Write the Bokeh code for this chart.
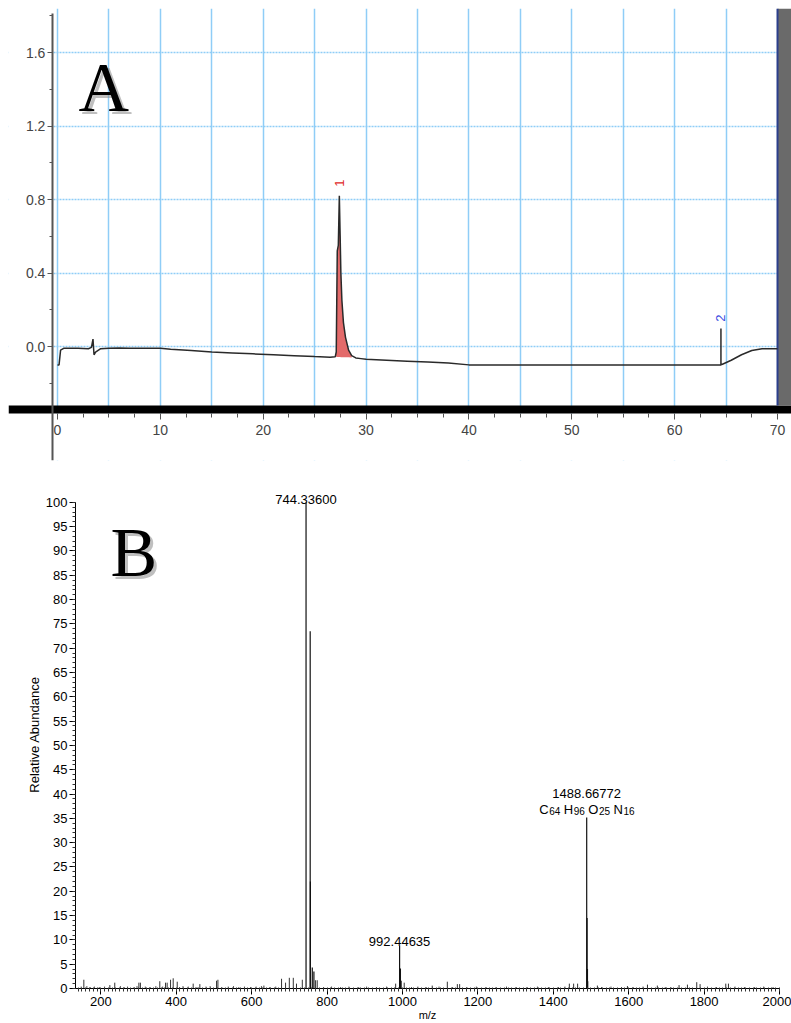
import numpy as np
from bokeh.plotting import figure
from bokeh.layouts import column
from bokeh.models import (LinearAxis, Grid, FixedTicker, PrintfTickFormatter,
                          Range1d, SingleIntervalTicker)
from bokeh.core.properties import value
from bokeh.embed import file_html
from bokeh.resources import INLINE

# ---------------- Panel A: HPLC chromatogram ----------------
time_min = [0.0, 0.15, 0.3, 0.6, 1.0, 2.0, 3.0, 3.3, 3.45, 3.55, 3.7, 4.2, 5.0,
            6.0, 7.0, 8.0, 10.0, 11.0, 13.0, 15.0, 17.0, 19.0, 21.0, 23.0, 25.0,
            26.5, 27.0, 27.1, 27.15, 27.2, 27.3, 27.4, 27.48, 27.55, 27.65, 27.8,
            28.0, 28.3, 28.6, 29.0, 29.5, 30.0, 32.0, 34.0, 36.0, 38.0, 40.0,
            45.0, 50.0, 55.0, 60.0, 64.5, 64.5, 64.5, 64.7, 65.5, 66.5, 67.5,
            68.5, 70.0]
signal = [-0.10, -0.10, -0.02, -0.01, -0.01, -0.01, -0.012, -0.005, 0.04, -0.045,
          -0.03, -0.012, -0.01, -0.008, -0.01, -0.01, -0.01, -0.015, -0.022, -0.03,
          -0.035, -0.04, -0.045, -0.05, -0.055, -0.058, -0.056, -0.03, 0.25, 0.52,
          0.55, 0.82, 0.60, 0.40, 0.25, 0.13, 0.05, -0.02, -0.05, -0.062, -0.066,
          -0.07, -0.075, -0.08, -0.085, -0.09, -0.10, -0.10, -0.10, -0.10, -0.10,
          -0.10, 0.098, -0.10, -0.095, -0.075, -0.045, -0.022, -0.012, -0.012]

# integrated area of peak 1
peak_time = [27.0, 27.1, 27.15, 27.2, 27.3, 27.4, 27.48, 27.55, 27.65, 27.8, 28.0, 28.3, 28.6]
peak_signal = [-0.056, -0.03, 0.25, 0.52, 0.55, 0.82, 0.60, 0.40, 0.25, 0.13, 0.05, -0.02, -0.05]
peak_base = [-0.056, -0.056, -0.056, -0.057, -0.057, -0.057, -0.057, -0.058, -0.058, -0.058, -0.059, -0.059, -0.06]

peak_ids = ["1", "2"]
peak_id_time = [27.42, 64.5]
peak_id_level = [0.87, 0.135]
peak_id_colors = ["#e02a2a", "#3a4de0"]

time_ticks = [0, 10, 20, 30, 40, 50, 60, 70]
time_grid = [0, 5, 10, 15, 20, 25, 30, 35, 40, 45, 50, 55, 60, 65]
signal_ticks = [0.0, 0.4, 0.8, 1.2, 1.6]
signal_minor = [-0.2, 0.2, 0.6, 1.0, 1.4, 1.8]
run_end = 70.0

XA0, XA1 = -4.764, 71.36
YA0, YA1 = -0.6204, 1.8395
band_top, band_bot = -0.321, -0.365
y_axis_at = -0.5
grid_blue = "#8fcdf7"

pa = figure(frame_width=783, frame_height=452,
            x_range=Range1d(XA0, XA1), y_range=Range1d(YA0, YA1),
            x_axis_location=None, y_axis_location=None,
            toolbar_location=None, output_backend="svg",
            min_border_left=8, min_border_right=0, min_border_top=8,
            min_border_bottom=2, outline_line_color=None, frame_align=False)
pa.center = []
pa.add_layout(Grid(dimension=0, ticker=FixedTicker(ticks=time_grid),
                   grid_line_color=grid_blue, grid_line_width=1.5), "center")
pa.add_layout(Grid(dimension=1, ticker=FixedTicker(ticks=signal_ticks),
                   grid_line_color=grid_blue, grid_line_width=1.5,
                   grid_line_dash="2 1"), "center")

# masks, baseline band and end-of-run bar
pa.quad(left=XA0, right=y_axis_at, bottom=band_top, top=YA1, fill_color="white", line_color=None)
pa.quad(left=XA0, right=XA1, bottom=YA0, top=band_bot, fill_color="white", line_color=None)
pa.quad(left=XA0, right=XA1, bottom=band_bot, top=band_top, fill_color="black", line_color=None)
pa.quad(left=run_end, right=XA1, bottom=band_top, top=YA1, fill_color="#6a6a6a", line_color=None)
pa.segment(x0=run_end, y0=band_top, x1=run_end, y1=YA1, line_color="#2b3f8c", line_width=2)

pa.varea(x=peak_time, y1=peak_base, y2=peak_signal, fill_color="#e36a6a")
pa.line(time_min, signal, line_color="#2a2a2a", line_width=1.5)

pa.text(x=peak_id_time, y=peak_id_level, text=peak_ids, angle=np.pi / 2,
        text_color=peak_id_colors, text_font=value("Liberation Sans"),
        text_font_size="13px", text_align="left", text_baseline="middle")

for dx, col, a in [(3, "#8a8a8a", 0.55), (0, "black", 1.0)]:
    pa.text(x=[2.04], y=[1.41], text=["A"], x_offset=dx, y_offset=dx,
            text_font=value("Liberation Serif"), text_font_size="70px",
            text_color=col, text_alpha=a, text_baseline="alphabetic")

ax_y = LinearAxis(fixed_location=y_axis_at, bounds=(YA0, 1.815),
                  ticker=FixedTicker(ticks=signal_ticks, minor_ticks=signal_minor),
                  formatter=PrintfTickFormatter(format="%.1f"))
ax_y.axis_line_color = "#555555"
ax_y.axis_line_width = 2
ax_y.major_tick_line_color = "#555555"
ax_y.minor_tick_line_color = "#555555"
ax_y.major_tick_in, ax_y.major_tick_out = 0, 5
ax_y.minor_tick_in, ax_y.minor_tick_out = 0, 3
ax_y.major_label_standoff = 2
ax_y.major_label_text_font = "Liberation Sans"
ax_y.major_label_text_font_size = "14px"
ax_y.major_label_text_color = "#444444"
pa.add_layout(ax_y, "left")

time_minor = [t * 2.5 for t in range(29) if (t * 2.5) % 10 != 0]
ax_x = LinearAxis(fixed_location=band_bot,
                  ticker=FixedTicker(ticks=time_ticks, minor_ticks=time_minor))
ax_x.axis_line_color = None
ax_x.major_tick_line_color = "#555555"
ax_x.minor_tick_line_color = "#555555"
ax_x.major_tick_in, ax_x.major_tick_out = 0, 6
ax_x.minor_tick_in, ax_x.minor_tick_out = 0, 4
ax_x.major_label_standoff = 5
ax_x.major_label_text_font = "Liberation Sans"
ax_x.major_label_text_font_size = "14px"
ax_x.major_label_text_color = "#444444"
pa.add_layout(ax_x, "below")

# ---------------- Panel B: mass spectrum ----------------
ion_mz = [744.336, 755.33, 755.83, 760.9, 765.2, 992.44635, 994.6, 1488.66772, 1489.67, 1490.67]
ion_ab = [100.0, 73.5, 22.0, 4.3, 3.5, 8.8, 4.1, 35.2, 14.5, 4.0]

minor_mz = [155, 224, 237, 301, 305, 356.5, 371.7, 376, 385, 392, 402.7, 445, 462.7,
            507, 510.6, 632.5, 679.4, 690, 700, 710.5, 719, 734.4, 769.6, 774, 982,
            997, 1004.7, 1079, 1119, 1145.6, 1151.7, 1442.6, 1454, 1464.6, 1491.7,
            1517, 1596.7, 1649.8, 1676, 1733.6, 1755.8, 1780.5, 1789.4, 1857.5, 1864.6]
minor_ab = [1.8, 0.7, 1.2, 1.2, 1.2, 1.5, 1.2, 1.2, 1.8, 2.1, 1.4, 1.0, 0.9,
            1.6, 1.8, 0.6, 2.0, 1.2, 2.2, 2.2, 1.0, 1.8, 1.7, 1.7, 1.0,
            1.6, 1.2, 0.6, 1.4, 0.9, 0.9, 1.0, 1.0, 1.0, 1.5,
            0.6, 0.5, 0.8, 0.6, 0.7, 0.8, 1.3, 0.9, 1.0, 1.0]

noise_mz = [148, 163, 172, 183, 196, 210, 252, 262, 271, 288, 296, 318, 331, 346,
            364, 409, 418, 432, 455, 479, 490, 521, 538, 552, 566, 581, 597, 612,
            626, 648, 664, 791, 812, 836, 858, 884, 905, 931, 958, 1024, 1041,
            1063, 1097, 1133, 1171, 1196, 1222, 1248, 1276, 1302, 1331, 1358,
            1387, 1414, 1431, 1528, 1553, 1581, 1612, 1638, 1697, 1712, 1809,
            1833, 1882, 1907, 1934, 1958, 1983]
noise_ab = [0.4, 0.5, 0.3, 0.4, 0.3, 0.4, 0.5, 0.3, 0.4, 0.3, 0.5, 0.4, 0.3, 0.5,
            0.4, 0.3, 0.5, 0.4, 0.3, 0.4, 0.5, 0.3, 0.4, 0.5, 0.3, 0.4, 0.3, 0.4,
            0.5, 0.3, 0.4, 0.3, 0.4, 0.3, 0.4, 0.3, 0.4, 0.3, 0.4, 0.3, 0.4,
            0.3, 0.4, 0.3, 0.3, 0.4, 0.3, 0.3, 0.4, 0.3, 0.3, 0.4,
            0.3, 0.3, 0.4, 0.3, 0.4, 0.3, 0.3, 0.4, 0.3, 0.3, 0.4,
            0.3, 0.4, 0.3, 0.3, 0.4, 0.3]

formula_elements = ["C", "H", "O", "N"]
formula_counts = [64, 96, 25, 16]

pb = figure(frame_width=704, frame_height=508,
            x_range=Range1d(132.9, 2000), y_range=Range1d(0, 104.5),
            toolbar_location=None, output_backend="svg",
            min_border_left=75, min_border_right=12, min_border_top=18,
            min_border_bottom=35, outline_line_color=None, frame_align=False,
            x_axis_label="m/z", y_axis_label="Relative Abundance")
pb.center = []

pb.segment(x0=noise_mz, y0=0, x1=noise_mz, y1=noise_ab, line_color="#555555", line_width=1)
pb.segment(x0=minor_mz, y0=0, x1=minor_mz, y1=minor_ab, line_color="#333333", line_width=1)
pb.segment(x0=ion_mz, y0=0, x1=ion_mz, y1=ion_ab, line_color="#111111", line_width=1.2)

lab_font = value("Liberation Sans")
labelled = [(0, -3), (5, -4), (7, -24)]
for idx, dy in labelled:
    pb.text(x=[ion_mz[idx]], y=[ion_ab[idx]], text=[f"{ion_mz[idx]:.5f}"],
            y_offset=dy, text_font=lab_font, text_font_size="13px",
            text_color="black", text_align="center", text_baseline="alphabetic")

# molecular formula with subscripts under the 1488 label
el_w = {"C": 9.4, "H": 9.4, "O": 10.1, "N": 9.4}
sub_w, gap = 11.1, 4.0
total = sum(el_w[e] + sub_w for e in formula_elements) + gap * (len(formula_elements) - 1)
start = -total / 2
for e, n in zip(formula_elements, formula_counts):
    pb.text(x=[ion_mz[7]], y=[ion_ab[7]], text=[e], x_offset=start, y_offset=-8,
            text_font=lab_font, text_font_size="13px", text_color="black",
            text_align="left", text_baseline="alphabetic")
    pb.text(x=[ion_mz[7]], y=[ion_ab[7]], text=[str(n)], x_offset=start + el_w[e] + 0.5,
            y_offset=-6, text_font=lab_font, text_font_size="10px", text_color="black",
            text_align="left", text_baseline="alphabetic")
    start += el_w[e] + sub_w + gap

for dx, col, a in [(3, "#8a8a8a", 0.55), (0, "black", 1.0)]:
    pb.text(x=[225.7], y=[89.7], text=["B"], x_offset=dx, y_offset=dx,
            text_font=value("Liberation Serif"), text_font_size="70px",
            text_color=col, text_alpha=a, text_baseline="alphabetic")

pb.xaxis.ticker = SingleIntervalTicker(interval=200, num_minor_ticks=20)
pb.yaxis.ticker = SingleIntervalTicker(interval=5, num_minor_ticks=5)
pb.yaxis.bounds = (0, 100)
for ax in (pb.xaxis, pb.yaxis):
    ax.axis_line_color = "black"
    ax.major_tick_line_color = "black"
    ax.minor_tick_line_color = "#333333"
    ax.major_label_text_font = "Liberation Sans"
    ax.major_label_text_font_size = "13px"
    ax.major_label_text_color = "black"
    ax.axis_label_text_font = "Liberation Sans"
    ax.axis_label_text_font_style = "normal"
    ax.axis_label_text_color = "black"
pb.xaxis.major_tick_in, pb.xaxis.major_tick_out = 0, 6
pb.xaxis.minor_tick_in, pb.xaxis.minor_tick_out = 1, 3
pb.xaxis.major_label_standoff = 2
pb.xaxis.axis_label_standoff = 0
pb.xaxis.axis_label_text_font_size = "11px"
pb.yaxis.major_tick_in, pb.yaxis.major_tick_out = 0, 6
pb.yaxis.minor_tick_in, pb.yaxis.minor_tick_out = 0, 3
pb.yaxis.major_label_standoff = 2
pb.yaxis.axis_label_standoff = 1
pb.yaxis.axis_label_text_font_size = "13px"

page = column(pa, pb, spacing=0)
open("out.html", "w").write(file_html(page, INLINE))
